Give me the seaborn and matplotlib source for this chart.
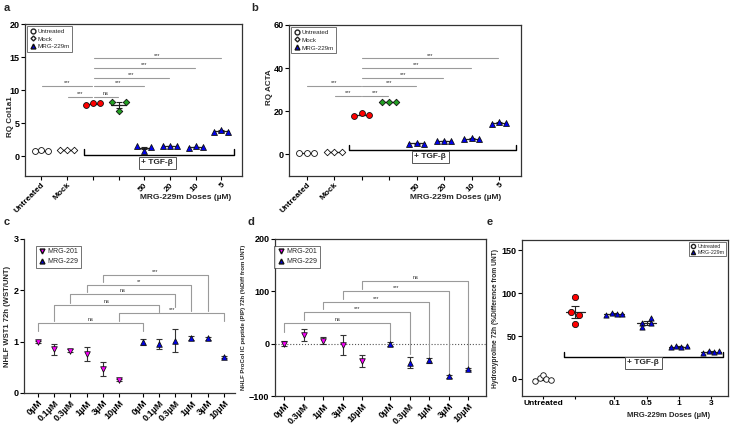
import numpy as np
import pandas as pd
import matplotlib
matplotlib.use("Agg")
import matplotlib.pyplot as plt
import seaborn as sns
from matplotlib.lines import Line2D

sns.set_theme(style="ticks")
plt.rcParams["font.family"] = ["Liberation Sans", "DejaVu Sans"]
plt.rcParams["font.weight"] = "bold"
plt.rcParams["axes.labelweight"] = "bold"

# ---------------- data ----------------
# panel a: RQ Col1a1, 3 replicates per group
a_ticks = ["Untreated", "Mock", "", "", "50", "20", "10", "5"]
a_vals = [[0.8, 0.9, 0.8], [1.0, 1.0, 1.0], [7.8, 8.1, 8.0], [8.2, 6.9, 8.2],
          [1.5, 0.8, 1.4], [1.5, 1.5, 1.5], [1.3, 1.5, 1.4], [3.6, 4.0, 3.7]]
a_sig = [(0, 2, 10.6, "***"), (1, 2, 9.0, "***"), (2, 3, 9.0, "ns"),
         (2, 4, 10.6, "***"), (2, 5, 11.9, "***"), (2, 6, 13.4, "***"),
         (2, 7, 14.8, "***")]

# panel b: RQ ACTA
b_ticks = a_ticks
b_vals = [[0.7, 0.7, 0.7], [1.0, 1.0, 1.0], [18.0, 19.0, 18.3], [24.2, 24.5, 24.3],
          [5.0, 5.5, 5.0], [6.0, 6.2, 6.0], [7.0, 7.8, 7.2], [14.2, 15.0, 14.8]]
b_sig = [(0, 2, 31.6, "***"), (1, 2, 27.0, "***"), (2, 3, 27.0, "***"),
         (2, 4, 31.6, "***"), (2, 5, 35.6, "***"), (2, 6, 40.2, "***"),
         (2, 7, 44.5, "***")]

# panel c: NHLF WST1 72h
c_doses = ["0µM", "0.1µM", "0.3µM", "1µM", "3µM", "10µM"]
c_201_mean = [1.00, 0.85, 0.82, 0.76, 0.47, 0.26]
c_201_err = [0.02, 0.11, 0.03, 0.13, 0.14, 0.02]
c_229_mean = [0.99, 0.95, 1.02, 1.08, 1.07, 0.71]
c_229_err = [0.06, 0.10, 0.23, 0.04, 0.03, 0.02]
# (dose index, bar y, left leg end, right leg end, label)
c_sig = [(0, 1.37, 1.21, 1.21, "ns"), (1, 1.71, 1.40, 1.58, "ns"),
         (2, 1.92, 1.76, 1.67, "ns"), (3, 2.11, 1.97, 1.60, "**"),
         (4, 2.30, 2.17, 1.59, "***"), (5, 1.55, 1.40, 1.40, "***")]

# panel d: NHLF ProCol IC peptide
d_doses = ["0µM", "0.3µM", "1µM", "3µM", "10µM"]
d_201_mean = [0, 17, 6, -2, -33]
d_201_err = [5, 11, 7, 19, 12]
d_229_mean = [0, -36, -32, -62, -49]
d_229_err = [4, 11, 4, 3, 2]
d_sig = [(0, 39, 23, 6, "ns"), (1, 61, 45, -20, "***"), (2, 80, 66, -24, "***"),
         (3, 100, 85, -54, "***"), (4, 120, 104, -43, "ns")]

# panel e: Hydroxyproline 72h
e_ticks = ["Untreated", "", "0.1", "0.5", "1", "3"]
e_vals = [[-3, 1, 5, 0, -1], [78, 96, 64, 74], [75, 77, 76, 76],
          [65, 60, 71, 65], [37, 38, 37, 38], [30, 33, 31, 32]]

# ---------------- layout ----------------
W, H = 733, 425
fig = plt.figure(figsize=(W / 100, H / 100), dpi=100)


def place(l, t, r, b):
    return fig.add_axes([l / W, 1 - b / H, (r - l) / W, (b - t) / H])


SPINE = "#333333"
GREY = "#9a9a9a"


def style(ax, box=True):
    for k, sp in ax.spines.items():
        sp.set_color(SPINE)
        sp.set_linewidth(0.9)
        if not box and k in ("top", "right"):
            sp.set_visible(False)
    ax.tick_params(direction="out", length=3, width=0.8, labelsize=6.5, pad=1,
                   colors="black")
    ax.grid(False)


def points(ax, xs, ys, marker, face, edge="#111111", s=18):
    df = pd.DataFrame({"x": xs, "y": ys})
    sns.scatterplot(data=df, x="x", y="y", marker=marker, color=face, edgecolor=edge,
                    s=s, linewidth=0.6, ax=ax, zorder=4, legend=False)


def mean_sem(ax, x, vals, half=0.3, cap=2):
    m = np.mean(vals)
    s = np.std(vals, ddof=1) / np.sqrt(len(vals))
    ax.plot([x - half, x + half], [m, m], color="#222", lw=0.9, zorder=3)
    ax.errorbar(x, m, yerr=s, color="#222", capsize=cap, lw=0.8, capthick=0.8, zorder=3)


def tgf_bracket(ax, x0, x1, y, h, tx, ty, fs=6):
    ax.plot([x0, x0, x1, x1], [y + h, y, y, y + h], color="black", lw=1.0, zorder=2)
    ax.text(tx, ty, "+ TGF-β", ha="center", va="center", fontsize=fs, fontweight="bold",
            bbox=dict(boxstyle="square,pad=0.3", fc="white", ec="#555", lw=0.7))


def small_legend(ax, handles, fs, **kw):
    leg = ax.legend(handles=handles, fontsize=fs, frameon=True, fancybox=False,
                    handletextpad=0.3, handlelength=1.0, **kw)
    leg.get_frame().set_edgecolor("#333")
    leg.get_frame().set_linewidth(0.6)
    for t in leg.get_texts():
        t.set_fontweight("normal")
    return leg


group_style = [("o", "white"), ("D", "white"), ("o", "#ff0000"), ("D", "#22a022"),
               ("^", "#0000ee"), ("^", "#0000ee"), ("^", "#0000ee"), ("^", "#0000ee")]
dx3 = np.array([-0.27, 0.0, 0.27])


def rq_panel(ax, vals, ticks, sig, ylim, yticks, ylabel, ylab_xy, brk, xlabel_pos):
    for i, v in enumerate(vals):
        mk, fc = group_style[i]
        s = 11 if mk == "D" else 18
        points(ax, i + dx3, v, mk, fc, s=s)
        mean_sem(ax, i, v)
    for x0, x1, y, lab in sig:
        ax.plot([x0 + 0.03, x1 - 0.03], [y, y], color=GREY, lw=0.8)
        ax.text((x0 + x1) / 2, y + (ylim[1] - ylim[0]) * 0.005, lab, ha="center",
                va="bottom", fontsize=4, fontweight="normal")
    tgf_bracket(ax, *brk)
    ax.set_xlim(-0.64, 7.8)
    ax.set_ylim(*ylim)
    ax.set_yticks(yticks)
    ax.set_xticks(range(len(ticks)))
    ax.set_xticklabels(ticks, rotation=45, ha="right", rotation_mode="anchor")
    ax.tick_params(axis="x", labelsize=6)
    ax.set_ylabel(ylabel, fontsize=5.8)
    ax.yaxis.set_label_coords(*ylab_xy)
    ax.set_xlabel("")
    ax.text(xlabel_pos[0], xlabel_pos[1], "MRG-229m Doses (µM)", transform=ax.transAxes,
            ha="center", va="center", fontsize=6, fontweight="bold")
    handles = [Line2D([], [], marker="o", ls="", mfc="white", mec="#222", ms=3.5, label="Untreated"),
               Line2D([], [], marker="D", ls="", mfc="white", mec="#222", ms=2.5, label="Mock"),
               Line2D([], [], marker="^", ls="", mfc="#0000ee", mec="#111", ms=3.5, label="MRG-229m")]
    small_legend(ax, handles, 4.5, loc="upper left", borderaxespad=0.3, borderpad=0.4,
                 labelspacing=0.4)


# ---- a ----
ax_a = place(25, 24, 242, 176)
style(ax_a)
rq_panel(ax_a, a_vals, a_ticks, a_sig, (-3, 20), [0, 5, 10, 15, 20], "RQ Col1a1",
         (-0.05, 0.39), (1.66, 7.47, 0.25, 0.8, 4.5, -1.0), (0.74, -0.14))

# ---- b ----
ax_b = place(289, 25, 521, 176)
style(ax_b)
rq_panel(ax_b, b_vals, b_ticks, b_sig, (-10, 60), [0, 20, 40, 60], "RQ ACTA",
         (-0.07, 0.59), (1.56, 7.6, 1.9, 2.7, 4.5, -1.0), (0.72, -0.145))

# ---- c ----
ax_c = place(24, 239, 235, 393)
style(ax_c, box=False)
xc1 = np.arange(len(c_doses))
xc2 = xc1 + 6.43
ax_c.errorbar(xc1, c_201_mean, yerr=c_201_err, fmt="none", ecolor="#333", capsize=2,
              lw=0.8, capthick=0.8, zorder=3)
ax_c.errorbar(xc2, c_229_mean, yerr=c_229_err, fmt="none", ecolor="#333", capsize=2,
              lw=0.8, capthick=0.8, zorder=3)
points(ax_c, xc1, c_201_mean, "v", "#ff00ff", s=16)
points(ax_c, xc2, c_229_mean, "^", "#0000ee", s=16)
for i, y, lb, rb, lab in c_sig:
    x0, x1 = xc1[i], xc2[i]
    ax_c.plot([x0, x0, x1, x1], [lb, y, y, rb], color=GREY, lw=0.8, zorder=2)
    ax_c.text((x0 + x1) / 2, y + 0.02, lab, ha="center", va="bottom", fontsize=4,
              fontweight="normal")
ax_c.set_xlim(-0.85, 12.1)
ax_c.set_ylim(0, 3)
ax_c.set_yticks([0, 1, 2, 3])
ax_c.set_xticks(np.concatenate([xc1, xc2]))
ax_c.set_xticklabels(c_doses * 2, rotation=45, ha="right", rotation_mode="anchor")
ax_c.set_xlabel("")
ax_c.set_ylabel("NHLF WST1 72h (WST/UNT)", fontsize=5.5, labelpad=2)
hc = [Line2D([], [], marker="v", ls="", mfc="#ff00ff", mec="#111", ms=3.5, label="MRG-201"),
      Line2D([], [], marker="^", ls="", mfc="#0000ee", mec="#111", ms=3.5, label="MRG-229")]
small_legend(ax_c, hc, 5, loc="upper left", bbox_to_anchor=(0.04, 0.98), borderpad=0.4,
             labelspacing=0.4)

# ---- d ----
ax_d = place(275, 239, 486, 396)
style(ax_d)
xd1 = np.arange(len(d_doses))
xd2 = xd1 + 5.42
ax_d.axhline(0, color="#555", ls=":", lw=0.8, zorder=1)
ax_d.errorbar(xd1, d_201_mean, yerr=d_201_err, fmt="none", ecolor="#333", capsize=2,
              lw=0.8, capthick=0.8, zorder=3)
ax_d.errorbar(xd2, d_229_mean, yerr=d_229_err, fmt="none", ecolor="#333", capsize=2,
              lw=0.8, capthick=0.8, zorder=3)
points(ax_d, xd1, d_201_mean, "v", "#ff00ff", s=16)
points(ax_d, xd2, d_229_mean, "^", "#0000ee", s=16)
for i, y, lb, rb, lab in d_sig:
    x0, x1 = xd1[i], xd2[i]
    ax_d.plot([x0, x0, x1, x1], [lb, y, y, rb], color=GREY, lw=0.8, zorder=2)
    ax_d.text((x0 + x1) / 2, y + 2, lab, ha="center", va="bottom", fontsize=4,
              fontweight="normal")
ax_d.set_xlim(-0.48, 10.34)
ax_d.set_ylim(-100, 200)
ax_d.set_yticks([-100, 0, 100, 200])
ax_d.set_xticks(np.concatenate([xd1, xd2]))
ax_d.set_xticklabels(d_doses * 2, rotation=45, ha="right", rotation_mode="anchor")
ax_d.set_xlabel("")
ax_d.set_ylabel("NHLF ProCol IC peptide (PIP) 72h (%Diff from UNT)", fontsize=4.3,
                labelpad=2)
small_legend(ax_d, hc, 5, loc="upper left", bbox_to_anchor=(-0.02, 0.98), borderpad=0.4,
             labelspacing=0.4)

# ---- e ----
ax_e = place(522, 240, 728, 396)
style(ax_e)
ax_e.tick_params(axis="x", length=2.5, pad=0.5)
xe = [0, 1, 2.2, 3.2, 4.2, 5.2]
e_dx = [np.array([-0.25, -0.1, 0.0, 0.1, 0.25]), np.array([-0.15, 0.0, 0.0, 0.12]),
        np.array([-0.25, -0.08, 0.08, 0.25]), np.array([-0.13, -0.13, 0.13, 0.13]),
        np.array([-0.25, -0.08, 0.08, 0.25]), np.array([-0.25, -0.08, 0.08, 0.25])]
for i, v in enumerate(e_vals):
    if i == 0:
        mk, fc, s = "o", "white", 16
    elif i == 1:
        mk, fc, s = "o", "#ff0000", 20
    else:
        mk, fc, s = "^", "#0000ee", 14
    mean_sem(ax_e, xe[i], v, half=0.3, cap=3)
    points(ax_e, xe[i] + e_dx[i], v, mk, fc, s=s)
tgf_bracket(ax_e, 0.64, 5.57, 26, 5, 3.1, 19, fs=6)
ax_e.set_xlim(-0.65, 5.72)
ax_e.set_ylim(-20, 162)
ax_e.set_yticks([0, 50, 100, 150])
ax_e.set_xticks(xe)
ax_e.set_xticklabels(e_ticks, fontsize=6)
ax_e.set_xlabel("")
ax_e.set_ylabel("Hydroxyproline 72h (%Difference from UNT)", fontsize=4.8, labelpad=2)
ax_e.text(0.71, -0.125, "MRG-229m Doses (µM)", transform=ax_e.transAxes, ha="center",
          va="center", fontsize=5.5, fontweight="bold")
he = [Line2D([], [], marker="o", ls="", mfc="white", mec="#222", ms=3, label="Untreated"),
      Line2D([], [], marker="^", ls="", mfc="#0000ee", mec="#111", ms=3, label="MRG-229m")]
small_legend(ax_e, he, 3.8, loc="upper right", borderpad=0.3, labelspacing=0.2,
             borderaxespad=0.4)

# panel letters
for txt, x, y in [("a", 4, 8), ("b", 251, 8), ("c", 4, 222), ("d", 248, 222), ("e", 487, 222)]:
    fig.text(x / W, 1 - y / H, txt, fontsize=8, fontweight="bold", va="center", ha="left")

fig.savefig("out.png", dpi=100, facecolor="white")
